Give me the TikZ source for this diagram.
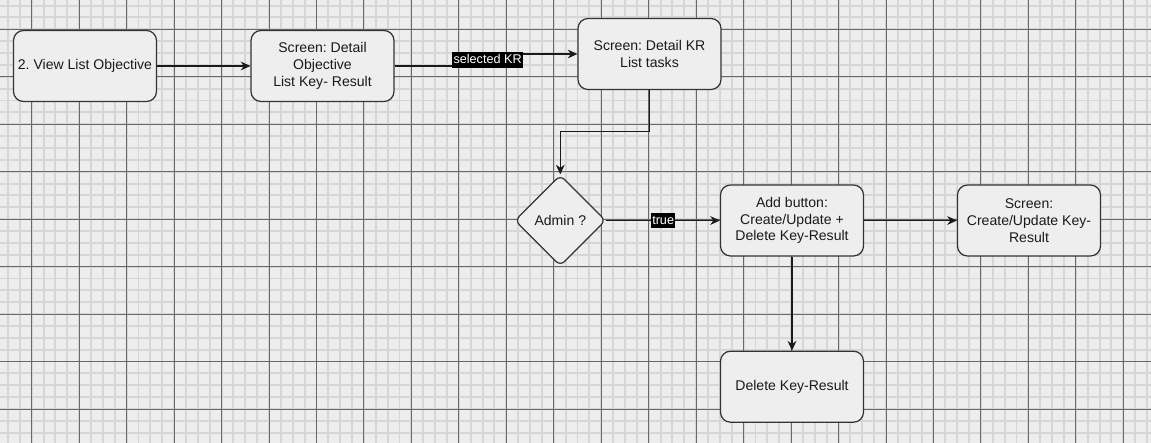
\documentclass[tikz,border=0pt]{standalone}
\usepackage{fontspec}
\setmainfont{Liberation Sans}
\usetikzlibrary{shapes.geometric,arrows.meta}
\frenchspacing

\definecolor{bgcol}{HTML}{EDEDED}
\definecolor{minorcol}{HTML}{D6D6D6}
\definecolor{majorcol}{HTML}{686868}
\definecolor{boxfill}{HTML}{EEEEEE}
\definecolor{boxline}{HTML}{333333}
\definecolor{txtcol}{HTML}{1A1A1A}

\tikzset{
  box/.style={rectangle, rounded corners=0.2cm, draw=boxline, fill=boxfill, line width=0.7pt,
    minimum width=2.86cm, minimum height=1.42cm, inner sep=1.5pt, align=center,
    text=txtcol, font=\fontsize{8}{9.5}\selectfont},
  cond/.style={diamond, rounded corners=0.12cm, draw=boxline, fill=boxfill, line width=0.7pt,
    minimum width=1.82cm, minimum height=1.82cm, inner sep=0pt,
    text=txtcol, font=\fontsize{8}{9.5}\selectfont},
  lbl/.style={fill=black, text=white, inner xsep=0.8pt, inner ysep=0.9pt,
    text height=5.6pt, text depth=1.6pt, font=\fontsize{7.2}{8.6}\selectfont},
  minorgrid/.style={draw=minorcol, line width=1.1pt},
  majorgrid/.style={draw=majorcol, line width=0.5pt},
}

\begin{document}
\begin{tikzpicture}[node distance = 4.75cm, >={Stealth[length=5.5pt,width=5pt]}]
\useasboundingbox (-0.634,-8.274) rectangle (22.386,0.586);
\fill[bgcol] (-0.634,-8.274) rectangle (22.386,0.586);
\draw[minorgrid, step=0.23730cm] (-0.634,-8.274) grid (22.386,0.586);
\draw[majorgrid, step=0.9492cm] (-0.634,-8.274) grid (22.386,0.586);

\node[box] (view) at (1.066,-0.734) {2. View List Objective};
\node[box] (detailobj) [right of=view] {Screen: Detail\\Objective\\List Key- Result};
\node[box] (detailkr) at (12.356,-0.494) {Screen: Detail KR\\List tasks};
\node[box] (addbtn) at (15.206,-3.824) {Add button:\\Create/Update +\\Delete Key-Result};
\node[cond] (admin) [left of=addbtn, node distance = 4.634cm] {Admin ?};
\node[box] (editkr) [right of=addbtn, node distance = 4.74cm] {Screen:\\Create/Update Key-\\Result};
\node[box] (deletekr) [below of=addbtn, node distance = 3.324cm] {Delete Key-Result};

\draw[->, line width=0.6pt, txtcol] (view) -- (detailobj);
\draw[->, line width=0.6pt, txtcol] (detailobj.east) -- ++(1.86,0) |- node[lbl, pos=0.25] {selected KR} (detailkr.west);
\draw[->, line width=0.6pt, txtcol] (detailkr.south) -- ++(0,-0.82) -| (admin.north);
\draw[->, line width=0.6pt, txtcol] (admin) -- node[lbl] {true} (addbtn);
\draw[->, line width=0.6pt, txtcol] (addbtn) -- (editkr);
\draw[->, line width=0.6pt, txtcol] (addbtn) -- (deletekr);
\end{tikzpicture}
\end{document}
